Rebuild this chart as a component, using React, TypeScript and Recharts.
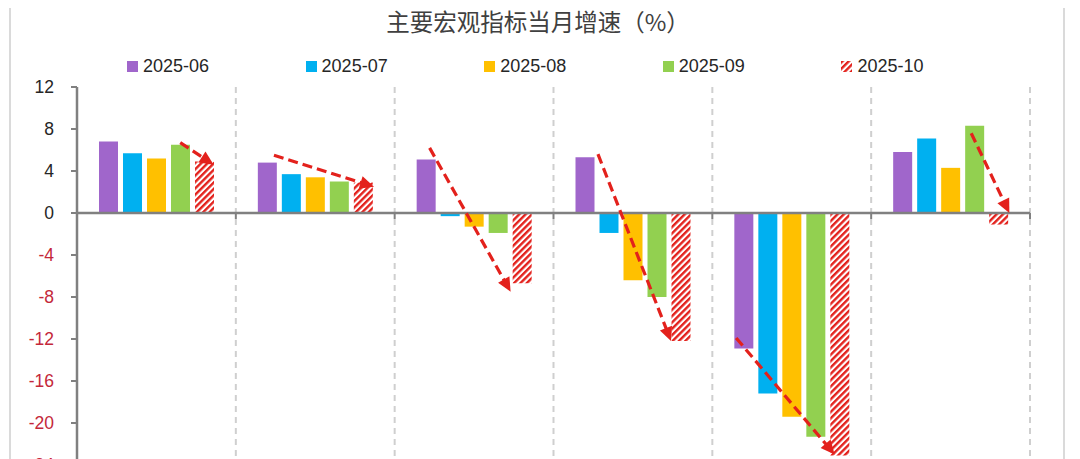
import React from "react";
import {
  BarChart,
  Bar,
  XAxis,
  YAxis,
  CartesianGrid,
  Legend,
  ReferenceLine,
} from "recharts";

// indicators (x categories, labels fall below the visible area)
const categories = [
  "工业增加值",
  "社会消费品零售总额",
  "制造业投资",
  "基建投资",
  "房地产开发投资",
  "出口",
];

const months = ["2025-06", "2025-07", "2025-08", "2025-09", "2025-10"];

const jun = [6.8, 4.8, 5.1, 5.3, -12.9, 5.8];
const jul = [5.7, 3.7, -0.3, -1.9, -17.2, 7.1];
const aug = [5.2, 3.4, -1.3, -6.4, -19.4, 4.3];
const sep = [6.5, 3.0, -1.9, -8.0, -21.3, 8.3];
const oct = [4.9, 2.9, -6.7, -12.2, -23.1, -1.1];

const yTicks = [-24, -20, -16, -12, -8, -4, 0, 4, 8, 12];

// trend arrows: [category position, value] start -> end
const arrowFrom = [
  [0.65, 6.7],
  [1.24, 5.5],
  [2.22, 6.2],
  [3.28, 5.6],
  [4.15, -11.9],
  [5.63, 7.6],
];
const arrowTo = [
  [0.86, 4.6],
  [1.87, 2.5],
  [2.73, -7.5],
  [3.74, -12.2],
  [4.77, -23.0],
  [5.87, 0.0],
];

const seriesValues = [jun, jul, aug, sep, oct];
const colors = ["#A066CB", "#00B0F0", "#FFC000", "#92D050", "url(#hatch)"];

const data = categories.map((name, i) => {
  const row: any = { name, pos: i + 0.5 };
  months.forEach((m, j) => {
    row[m] = seriesValues[j][i];
  });
  return row;
});

const FONT = "'Liberation Sans', Arial, sans-serif";
const RED = "#E3211C";

const YTick = ({ x, y, payload }: any) => (
  <text
    x={x}
    y={y}
    dy={6}
    textAnchor="end"
    fontFamily={FONT}
    fontSize={17.5}
    fill={payload.value < 0 ? "#C4283A" : "#262626"}
  >
    {payload.value}
  </text>
);

const ZeroLine = (p: any) => {
  const { x1, x2, y1 } = p;
  const step = (x2 - x1) / categories.length;
  return (
    <g>
      <line x1={x1} x2={x2} y1={y1} y2={y1} stroke="#808080" strokeWidth={2.5} />
      {categories.map((c, i) => (
        <line
          key={c}
          x1={x1 + (i + 1) * step}
          x2={x1 + (i + 1) * step}
          y1={y1}
          y2={y1 + 6}
          stroke="#808080"
          strokeWidth={2}
        />
      ))}
    </g>
  );
};

const Arrow = (p: any) => {
  const { x1, y1, x2, y2 } = p;
  const dx = x2 - x1;
  const dy = y2 - y1;
  const len = Math.sqrt(dx * dx + dy * dy);
  const ux = dx / len;
  const uy = dy / len;
  const head = 14;
  const half = 6.5;
  const bx = x2 - ux * head;
  const by = y2 - uy * head;
  return (
    <g>
      <line
        x1={x1}
        y1={y1}
        x2={bx + ux * 2}
        y2={by + uy * 2}
        stroke={RED}
        strokeWidth={3.2}
        strokeDasharray="10 5"
      />
      <polygon
        points={`${x2},${y2} ${bx - uy * half},${by + ux * half} ${bx + uy * half},${by - ux * half}`}
        fill={RED}
      />
    </g>
  );
};

const renderLegend = ({ payload }: any) => (
  <div style={{ position: "relative", height: 24 }}>
    {(payload || []).map((item: any, i: number) => (
      <div
        key={item.value}
        style={{
          position: "absolute",
          left: 127 + i * 178.6,
          top: 0,
          height: 24,
          display: "flex",
          alignItems: "center",
          fontFamily: FONT,
          fontSize: 18,
          color: "#262626",
        }}
      >
        <svg width={11} height={11} style={{ marginRight: 5 }}>
          <defs>
            <pattern
              id="hatchIcon"
              patternUnits="userSpaceOnUse"
              width={4.5}
              height={4.5}
              patternTransform="rotate(45)"
            >
              <rect width={4.5} height={4.5} fill="#fff" />
              <line x1={1.2} y1={0} x2={1.2} y2={4.5} stroke={RED} strokeWidth={2.4} />
            </pattern>
          </defs>
          <rect
            width={11}
            height={11}
            fill={String(item.color).startsWith("url") ? "url(#hatchIcon)" : item.color}
          />
        </svg>
        {item.value}
      </div>
    ))}
  </div>
);

export default function App() {
  return (
    <div style={{ position: "relative", margin: -8, width: 1080, height: 540, background: "#fff" }}>
      <div style={{ position: "absolute", left: 9, top: 0, width: 2, height: 540, background: "#dadada" }} />
      <div style={{ position: "absolute", left: 1063, top: 0, width: 2, height: 540, background: "#dadada" }} />
      <div
        style={{
          position: "absolute",
          left: 7,
          top: 6,
          width: 1062,
          textAlign: "center",
          fontFamily: "'Noto Sans CJK SC', sans-serif",
          fontSize: 23.5,
          lineHeight: "30px",
          color: "#404040",
        }}
      >
        主要宏观指标当月增速（%）
      </div>
      <BarChart
        width={1080}
        height={540}
        data={data}
        barGap={5}
        margin={{ top: 87, right: 50, bottom: 75, left: 21 }}
      >
        <defs>
          <pattern
            id="hatch"
            patternUnits="userSpaceOnUse"
            width={4.5}
            height={4.5}
            patternTransform="rotate(45)"
          >
            <rect width={4.5} height={4.5} fill="#fff" />
            <line x1={1.2} y1={0} x2={1.2} y2={4.5} stroke={RED} strokeWidth={2.4} />
          </pattern>
        </defs>
        <CartesianGrid
          horizontal={false}
          stroke="#cfcfcf"
          strokeWidth={2}
          strokeDasharray="6 5"
          verticalCoordinatesGenerator={({ offset }: any) =>
            categories.map((c, i) => offset.left + ((i + 1) * offset.width) / categories.length)
          }
        />
        <XAxis xAxisId="cat" dataKey="name" hide />
        <XAxis
          xAxisId="num"
          dataKey="pos"
          type="number"
          scale="linear"
          domain={[0, categories.length]}
          padding={{ left: 0, right: 0 }}
          hide
          allowDataOverflow
        />
        <YAxis
          width={56}
          domain={[-24, 12]}
          ticks={yTicks}
          interval={0}
          axisLine={{ stroke: "#808080", strokeWidth: 2.5 }}
          tickLine={{ stroke: "#808080", strokeWidth: 2 }}
          tickSize={6}
          tickMargin={17}
          tick={<YTick />}
        />
        <Legend
          verticalAlign="middle"
          align="center"
          content={renderLegend}
          wrapperStyle={{ position: "absolute", top: 54, left: 0, width: 1080, height: 24 }}
        />
        {months.map((m, j) => (
          <Bar
            key={m}
            xAxisId="cat"
            dataKey={m}
            name={m}
            fill={colors[j]}
            barSize={19}
            isAnimationActive={false}
          />
        ))}
        <ReferenceLine y={0} xAxisId="num" shape={ZeroLine} ifOverflow="visible" />
        {arrowFrom.map((a, i) => (
          <ReferenceLine
            key={i}
            xAxisId="num"
            ifOverflow="visible"
            segment={[
              { x: a[0], y: a[1] },
              { x: arrowTo[i][0], y: arrowTo[i][1] },
            ]}
            shape={Arrow}
          />
        ))}
      </BarChart>
    </div>
  );
}
